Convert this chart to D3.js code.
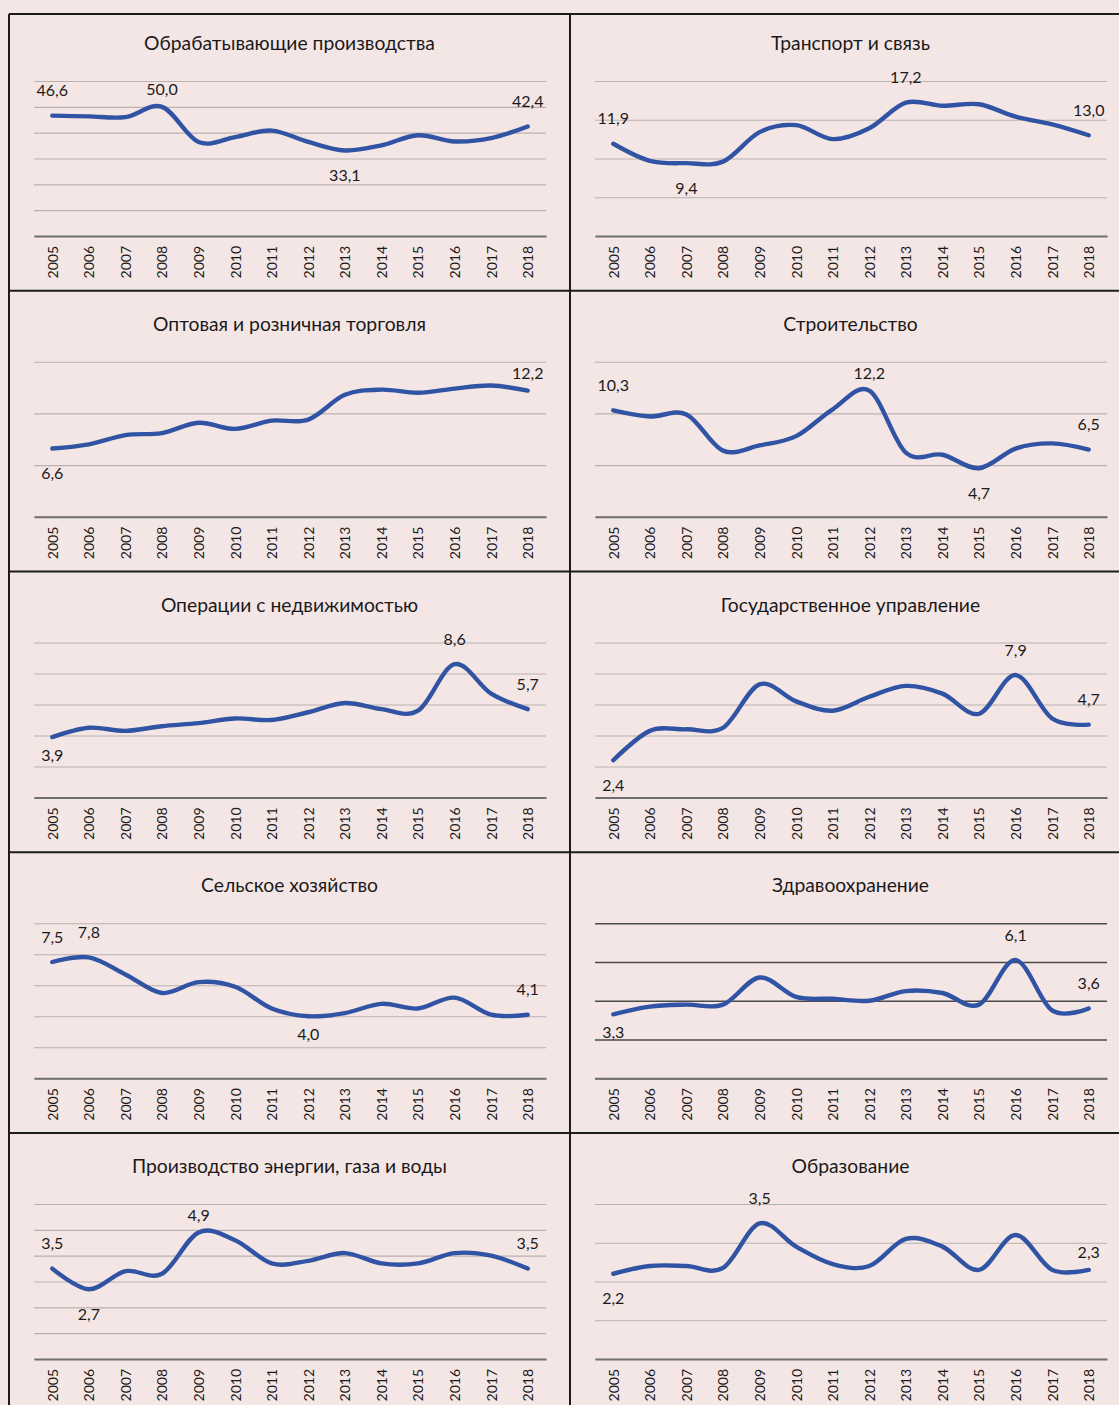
<!DOCTYPE html>
<html>
<head>
<meta charset="utf-8">
<script src="https://cdn.jsdelivr.net/npm/d3@7"></script>
<style>
  body { margin: 0; background: #f5e6e6; }
  text { font-family: Lato, "Noto Sans", sans-serif; fill: #1a1a1a; }
</style>
</head>
<body>
<div id="chart"></div>
<script>
var years = ["2005", "2006", "2007", "2008", "2009", "2010", "2011", "2012", "2013", "2014", "2015", "2016", "2017", "2018"];

var manufacturing = [46.6, 46.3, 46.0, 50.0, 36.4, 38.3, 40.8, 36.4, 33.1, 35.1, 39.0, 36.6, 37.9, 42.4];
var transport     = [11.9, 9.7, 9.4, 9.6, 13.4, 14.3, 12.5, 13.9, 17.2, 16.8, 17.0, 15.4, 14.4, 13.0];
var trade         = [6.6, 7.0, 7.9, 8.1, 9.1, 8.5, 9.3, 9.4, 11.8, 12.3, 12.0, 12.4, 12.7, 12.2];
var construction  = [10.3, 9.7, 9.9, 6.4, 6.9, 7.8, 10.4, 12.2, 6.2, 6.0, 4.7, 6.6, 7.1, 6.5];
var realty        = [3.9, 4.5, 4.3, 4.6, 4.8, 5.1, 5.0, 5.5, 6.1, 5.7, 5.6, 8.6, 6.7, 5.7];
var government    = [2.4, 4.3, 4.4, 4.5, 7.3, 6.2, 5.6, 6.5, 7.2, 6.7, 5.4, 7.9, 5.1, 4.7];
var agriculture   = [7.5, 7.8, 6.7, 5.5, 6.2, 5.9, 4.5, 4.0, 4.2, 4.8, 4.5, 5.2, 4.1, 4.1];
var health        = [3.3, 3.7, 3.8, 3.8, 5.2, 4.2, 4.1, 4.0, 4.5, 4.4, 3.8, 6.1, 3.5, 3.6];
var energy        = [3.5, 2.7, 3.4, 3.3, 4.9, 4.6, 3.7, 3.8, 4.1, 3.7, 3.7, 4.1, 4.0, 3.5];
var education     = [2.2, 2.4, 2.4, 2.35, 3.5, 2.9, 2.45, 2.4, 3.1, 2.9, 2.3, 3.2, 2.3, 2.3];

var titles = ["Обрабатывающие производства", "Транспорт и связь",
  "Оптовая и розничная торговля", "Строительство",
  "Операции с недвижимостью", "Государственное управление",
  "Сельское хозяйство", "Здравоохранение",
  "Производство энергии, газа и воды", "Образование"];
var series = [manufacturing, transport, trade, construction, realty, government, agriculture, health, energy, education];
var yMax  = [60, 20, 15, 15, 10, 10, 10, 8, 6, 4];
var yStep = [10, 5, 5, 5, 2, 2, 2, 2, 1, 1];
// which points carry a value label: [index, side]
var labelled = [
  [[0, "up"], [3, "upNear"], [8, "down"], [13, "up"]],
  [[0, "up"], [2, "down"], [8, "up"], [13, "up"]],
  [[0, "down"], [13, "upNear"]],
  [[0, "up"], [7, "upNear"], [10, "down"], [13, "up"]],
  [[0, "downNear"], [11, "up"], [13, "up"]],
  [[0, "down"], [11, "up"], [13, "up"]],
  [[0, "up"], [1, "up"], [7, "downNear"], [13, "up"]],
  [[0, "downNear"], [11, "up"], [13, "up"]],
  [[0, "up"], [1, "down"], [4, "upNear"], [13, "up"]],
  [[0, "down"], [4, "up"], [13, "upNear"]]
];
var sideOffset = {up: -25, upNear: -17, down: 25, downNear: 18};

var W = 1119, H = 1405;
var panelW = 561, panelH = 280.75;
var fmt = d3.formatLocale({decimal: ",", thousands: " ", grouping: [3], currency: ["", ""]}).format(".1f");

var svg = d3.select("#chart").append("svg")
  .attr("width", W)
  .attr("height", H);

svg.append("rect").attr("width", W).attr("height", H).attr("fill", "#f5e6e6");

series.forEach(function(values, i) {
  var col = i % 2, row = Math.floor(i / 2);
  var left = 9 + col * panelW, top = 10 + row * panelH;
  var x0 = left + 25, x1 = left + 537;

  var x = d3.scalePoint().domain(years).range([x0, x1]).padding(0.5);
  var y = d3.scaleLinear().domain([0, yMax[i]]).range([top + 226, top + 71]);

  var g = svg.append("g");

  // title
  g.append("text")
    .attr("x", left + panelW / 2)
    .attr("y", top + 40)
    .attr("text-anchor", "middle")
    .style("font-size", "19.3px")
    .text(titles[i]);

  // gridlines
  var grid = g.append("g")
    .attr("transform", "translate(" + x0 + ",0)")
    .call(d3.axisLeft(y)
      .tickValues(d3.range(0, yMax[i] + yStep[i] / 2, yStep[i]))
      .tickSize(-(x1 - x0))
      .tickFormat(""));
  grid.select(".domain").remove();
  grid.selectAll("line")
    .attr("stroke", i == 7 ? "#4a4a4a" : "#b9b1b1")
    .attr("stroke-width", i == 7 ? 1.3 : 1.2);

  // x axis
  var xa = g.append("g")
    .attr("transform", "translate(0," + y(0) + ")")
    .call(d3.axisBottom(x).tickSize(0).tickSizeOuter(0));
  xa.select(".domain").attr("stroke", "#6f6f6f").attr("stroke-width", 2);
  xa.selectAll("text")
    .attr("transform", "rotate(-90)")
    .attr("x", -10)
    .attr("y", 0)
    .attr("dy", "0.35em")
    .style("text-anchor", "end")
    .style("font-size", "14px")
    .style("font-family", "Lato, 'Noto Sans', sans-serif")
    .attr("fill", "#1a1a1a");

  // smoothed line
  var line = d3.line()
    .x(function(d, j) { return x(years[j]); })
    .y(function(d) { return y(d); })
    .curve(d3.curveCardinal.tension(0));

  g.append("path")
    .datum(values)
    .attr("d", line)
    .attr("fill", "none")
    .attr("stroke", "#3054a3")
    .attr("stroke-width", 4.4)
    .attr("stroke-linecap", "round")
    .attr("stroke-linejoin", "round");

  // value labels
  g.selectAll(".vlabel")
    .data(labelled[i])
    .enter()
    .append("text")
    .attr("class", "vlabel")
    .attr("x", function(d) { return x(years[d[0]]); })
    .attr("y", function(d) { return y(values[d[0]]) + sideOffset[d[1]]; })
    .attr("dy", "0.35em")
    .attr("text-anchor", "middle")
    .style("font-size", "16px")
    .text(function(d) { return fmt(values[d[0]]); });
});

// frame
var frame = svg.append("g").attr("stroke", "#1c1c1c").attr("stroke-width", 2);
frame.append("line").attr("x1", 9).attr("x2", W).attr("y1", 14).attr("y2", 14);
frame.append("line").attr("x1", 9).attr("x2", 9).attr("y1", 14).attr("y2", H);
frame.append("line").attr("x1", 9 + panelW).attr("x2", 9 + panelW).attr("y1", 14).attr("y2", H);
d3.range(1, 5).forEach(function(r) {
  var yy = 10 + r * panelH;
  frame.append("line").attr("x1", 9).attr("x2", W).attr("y1", yy).attr("y2", yy);
});
</script>
</body>
</html>
